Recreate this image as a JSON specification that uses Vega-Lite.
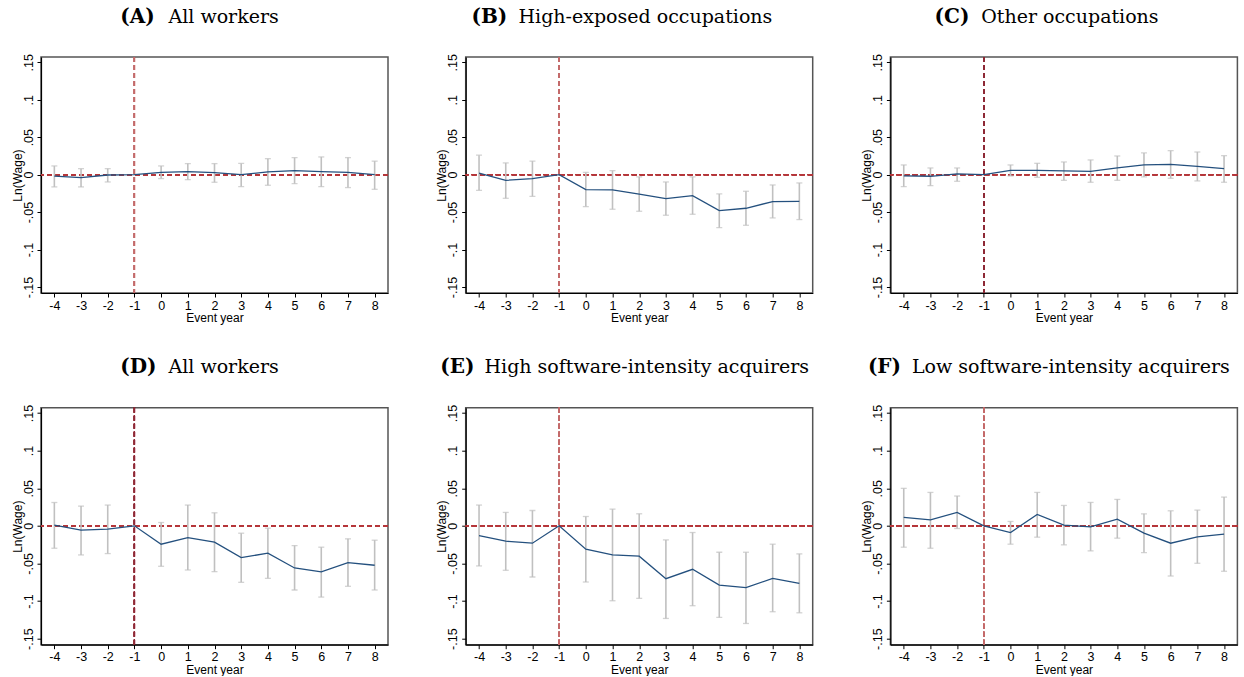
{
  "$schema": "https://vega.github.io/schema/vega-lite/v6.json",
  "padding": {"left": 10, "top": 5, "right": 0, "bottom": 0},
  "background": "white",
  "datasets": {
    "A": [
      {"year": -4, "b": -0.002, "lo": -0.0164, "hi": 0.0116},
      {"year": -3, "b": -0.004, "lo": -0.0164, "hi": 0.008},
      {"year": -2, "b": -0.0005, "lo": -0.0098, "hi": 0.008},
      {"year": -1, "b": 0, "lo": null, "hi": null},
      {"year": 0, "b": 0.003, "lo": -0.0053, "hi": 0.0116},
      {"year": 1, "b": 0.004, "lo": -0.0067, "hi": 0.0147},
      {"year": 2, "b": 0.0027, "lo": -0.0102, "hi": 0.0147},
      {"year": 3, "b": 0.0, "lo": -0.016, "hi": 0.015},
      {"year": 4, "b": 0.0036, "lo": -0.0142, "hi": 0.0213},
      {"year": 5, "b": 0.0053, "lo": -0.012, "hi": 0.0227},
      {"year": 6, "b": 0.004, "lo": -0.016, "hi": 0.0236},
      {"year": 7, "b": 0.003, "lo": -0.0173, "hi": 0.0227},
      {"year": 8, "b": 0.0, "lo": -0.0196, "hi": 0.018}
    ],
    "B": [
      {"year": -4, "b": 0.002, "lo": -0.021, "hi": 0.026},
      {"year": -3, "b": -0.0076, "lo": -0.0316, "hi": 0.0156},
      {"year": -2, "b": -0.0053, "lo": -0.029, "hi": 0.018},
      {"year": -1, "b": 0, "lo": null, "hi": null},
      {"year": 0, "b": -0.02, "lo": -0.0427, "hi": 0.003},
      {"year": 1, "b": -0.0204, "lo": -0.0462, "hi": 0.0053},
      {"year": 2, "b": -0.026, "lo": -0.0489, "hi": -0.003},
      {"year": 3, "b": -0.032, "lo": -0.0542, "hi": -0.0098},
      {"year": 4, "b": -0.028, "lo": -0.0529, "hi": -0.003},
      {"year": 5, "b": -0.048, "lo": -0.0707, "hi": -0.0258},
      {"year": 6, "b": -0.0449, "lo": -0.0676, "hi": -0.0222},
      {"year": 7, "b": -0.036, "lo": -0.0578, "hi": -0.0138},
      {"year": 8, "b": -0.0356, "lo": -0.06, "hi": -0.0111}
    ],
    "C": [
      {"year": -4, "b": -0.0018, "lo": -0.016, "hi": 0.0129},
      {"year": -3, "b": -0.0022, "lo": -0.0147, "hi": 0.0089},
      {"year": -2, "b": 0.0009, "lo": -0.0089, "hi": 0.0089},
      {"year": -1, "b": 0, "lo": null, "hi": null},
      {"year": 0, "b": 0.0058, "lo": -0.0018, "hi": 0.0129},
      {"year": 1, "b": 0.0058, "lo": -0.0036, "hi": 0.0151},
      {"year": 2, "b": 0.0049, "lo": -0.0076, "hi": 0.0169},
      {"year": 3, "b": 0.0044, "lo": -0.0102, "hi": 0.0196},
      {"year": 4, "b": 0.0089, "lo": -0.0076, "hi": 0.0249},
      {"year": 5, "b": 0.0129, "lo": -0.0031, "hi": 0.0289},
      {"year": 6, "b": 0.0138, "lo": -0.0049, "hi": 0.032},
      {"year": 7, "b": 0.0111, "lo": -0.0084, "hi": 0.0302},
      {"year": 8, "b": 0.008, "lo": -0.0102, "hi": 0.0253}
    ],
    "D": [
      {"year": -4, "b": 0.001, "lo": -0.0298, "hi": 0.031},
      {"year": -3, "b": -0.0058, "lo": -0.0387, "hi": 0.0262},
      {"year": -2, "b": -0.0044, "lo": -0.0369, "hi": 0.0276},
      {"year": -1, "b": 0, "lo": null, "hi": null},
      {"year": 0, "b": -0.0244, "lo": -0.0538, "hi": 0.0044},
      {"year": 1, "b": -0.0156, "lo": -0.0587, "hi": 0.0276},
      {"year": 2, "b": -0.0218, "lo": -0.0609, "hi": 0.0173},
      {"year": 3, "b": -0.0422, "lo": -0.0751, "hi": -0.0098},
      {"year": 4, "b": -0.0364, "lo": -0.0698, "hi": -0.0031},
      {"year": 5, "b": -0.056, "lo": -0.0853, "hi": -0.0262},
      {"year": 6, "b": -0.0613, "lo": -0.0947, "hi": -0.0284},
      {"year": 7, "b": -0.0489, "lo": -0.0804, "hi": -0.0173},
      {"year": 8, "b": -0.0524, "lo": -0.0853, "hi": -0.0191}
    ],
    "E": [
      {"year": -4, "b": -0.0129, "lo": -0.0533, "hi": 0.0276},
      {"year": -3, "b": -0.0204, "lo": -0.0591, "hi": 0.0178},
      {"year": -2, "b": -0.0231, "lo": -0.068, "hi": 0.0204},
      {"year": -1, "b": 0, "lo": null, "hi": null},
      {"year": 0, "b": -0.0311, "lo": -0.0747, "hi": 0.0124},
      {"year": 1, "b": -0.0387, "lo": -0.0996, "hi": 0.0222},
      {"year": 2, "b": -0.0404, "lo": -0.0964, "hi": 0.016},
      {"year": 3, "b": -0.0702, "lo": -0.1231, "hi": -0.0187},
      {"year": 4, "b": -0.0578, "lo": -0.1062, "hi": -0.0089},
      {"year": 5, "b": -0.0787, "lo": -0.1218, "hi": -0.0351},
      {"year": 6, "b": -0.0822, "lo": -0.1298, "hi": -0.0351},
      {"year": 7, "b": -0.0698, "lo": -0.1142, "hi": -0.0244},
      {"year": 8, "b": -0.0764, "lo": -0.1156, "hi": -0.0373}
    ],
    "F": [
      {"year": -4, "b": 0.0111, "lo": -0.0284, "hi": 0.0498},
      {"year": -3, "b": 0.008, "lo": -0.0298, "hi": 0.0444},
      {"year": -2, "b": 0.0178, "lo": -0.0036, "hi": 0.0396},
      {"year": -1, "b": 0, "lo": null, "hi": null},
      {"year": 0, "b": -0.0089, "lo": -0.0244, "hi": 0.0058},
      {"year": 1, "b": 0.0151, "lo": -0.0151, "hi": 0.0444},
      {"year": 2, "b": 0.0009, "lo": -0.0253, "hi": 0.0271},
      {"year": 3, "b": -0.0013, "lo": -0.0333, "hi": 0.0311},
      {"year": 4, "b": 0.0089, "lo": -0.0164, "hi": 0.0351},
      {"year": 5, "b": -0.0098, "lo": -0.0356, "hi": 0.016},
      {"year": 6, "b": -0.0231, "lo": -0.0667, "hi": 0.02},
      {"year": 7, "b": -0.0147, "lo": -0.0498, "hi": 0.0209},
      {"year": 8, "b": -0.0111, "lo": -0.0604, "hi": 0.0382}
    ]
  },
  "columns": 3,
  "spacing": {"row": 114.7, "column": 77.7},
  "bounds": "flush",
  "concat": [
    {
      "width": 347, "height": 236,
      "data": {"name": "A"},
      "resolve": {"axis": {"x": "independent"}},
      "layer": [
        {"mark": {"type": "rule", "color": "#b5363a", "strokeDash": [5, 3], "strokeWidth": 1.2}, "encoding": {"y": {"datum": 0, "type": "quantitative", "title": "Ln(Wage)", "scale": {"domain": [-0.158, 0.157], "nice": false, "zero": false}}}},
        {"mark": {"type": "rule", "color": "#c46a6a", "strokeDash": [5, 3], "strokeWidth": 1.2}, "encoding": {"x": {"datum": -1, "type": "quantitative", "scale": {"domain": [-4.5, 8.5], "nice": false, "zero": false}, "axis": {"orient": "top", "title": "All workers", "titleX": 127, "labels": false, "ticks": false, "domain": false, "style": "paneltitle"}}}},
        {"mark": {"type": "rule", "color": "#c0c0c0", "strokeWidth": 1.6}, "encoding": {"x": {"field": "year", "type": "quantitative", "axis": {"orient": "top", "title": "(A)", "titleX": 78.7, "labels": false, "ticks": false, "domain": false, "style": "panelletter"}}, "y": {"field": "lo", "type": "quantitative", "title": "Ln(Wage)"}, "y2": {"field": "hi"}}},
        {"mark": {"type": "tick", "color": "#c0c0c0", "size": 6, "thickness": 1.3, "orient": "horizontal"}, "encoding": {"x": {"field": "year", "type": "quantitative", "axis": null}, "y": {"field": "lo", "type": "quantitative", "title": "Ln(Wage)"}}},
        {"mark": {"type": "tick", "color": "#c0c0c0", "size": 6, "thickness": 1.3, "orient": "horizontal"}, "encoding": {"x": {"field": "year", "type": "quantitative", "axis": null}, "y": {"field": "hi", "type": "quantitative", "title": "Ln(Wage)"}}},
        {"mark": {"type": "line", "color": "#24507e", "strokeWidth": 1.3}, "encoding": {"x": {"field": "year", "type": "quantitative", "title": "Event year"}, "y": {"field": "b", "type": "quantitative", "title": "Ln(Wage)"}}}
      ]
    },
    {
      "width": 347, "height": 236,
      "data": {"name": "B"},
      "resolve": {"axis": {"x": "independent"}},
      "layer": [
        {"mark": {"type": "rule", "color": "#b5363a", "strokeDash": [5, 3], "strokeWidth": 1.2}, "encoding": {"y": {"datum": 0, "type": "quantitative", "title": "Ln(Wage)", "scale": {"domain": [-0.158, 0.157], "nice": false, "zero": false}}}},
        {"mark": {"type": "rule", "color": "#c46a6a", "strokeDash": [5, 3], "strokeWidth": 1.2}, "encoding": {"x": {"datum": -1, "type": "quantitative", "scale": {"domain": [-4.5, 8.5], "nice": false, "zero": false}, "axis": {"orient": "top", "title": "High-exposed occupations", "titleX": 52.3, "labels": false, "ticks": false, "domain": false, "style": "paneltitle"}}}},
        {"mark": {"type": "rule", "color": "#c0c0c0", "strokeWidth": 1.6}, "encoding": {"x": {"field": "year", "type": "quantitative", "axis": {"orient": "top", "title": "(B)", "titleX": 5.3, "labels": false, "ticks": false, "domain": false, "style": "panelletter"}}, "y": {"field": "lo", "type": "quantitative", "title": "Ln(Wage)"}, "y2": {"field": "hi"}}},
        {"mark": {"type": "tick", "color": "#c0c0c0", "size": 6, "thickness": 1.3, "orient": "horizontal"}, "encoding": {"x": {"field": "year", "type": "quantitative", "axis": null}, "y": {"field": "lo", "type": "quantitative", "title": "Ln(Wage)"}}},
        {"mark": {"type": "tick", "color": "#c0c0c0", "size": 6, "thickness": 1.3, "orient": "horizontal"}, "encoding": {"x": {"field": "year", "type": "quantitative", "axis": null}, "y": {"field": "hi", "type": "quantitative", "title": "Ln(Wage)"}}},
        {"mark": {"type": "line", "color": "#24507e", "strokeWidth": 1.3}, "encoding": {"x": {"field": "year", "type": "quantitative", "title": "Event year"}, "y": {"field": "b", "type": "quantitative", "title": "Ln(Wage)"}}}
      ]
    },
    {
      "width": 347, "height": 236,
      "data": {"name": "C"},
      "resolve": {"axis": {"x": "independent"}},
      "layer": [
        {"mark": {"type": "rule", "color": "#b5363a", "strokeDash": [5, 3], "strokeWidth": 1.2}, "encoding": {"y": {"datum": 0, "type": "quantitative", "title": "Ln(Wage)", "scale": {"domain": [-0.158, 0.157], "nice": false, "zero": false}}}},
        {"mark": {"type": "rule", "color": "#8e2a36", "strokeDash": [5, 3], "strokeWidth": 1.2}, "encoding": {"x": {"datum": -1, "type": "quantitative", "scale": {"domain": [-4.5, 8.5], "nice": false, "zero": false}, "axis": {"orient": "top", "title": "Other occupations", "titleX": 90.3, "labels": false, "ticks": false, "domain": false, "style": "paneltitle"}}}},
        {"mark": {"type": "rule", "color": "#c0c0c0", "strokeWidth": 1.6}, "encoding": {"x": {"field": "year", "type": "quantitative", "axis": {"orient": "top", "title": "(C)", "titleX": 43.7, "labels": false, "ticks": false, "domain": false, "style": "panelletter"}}, "y": {"field": "lo", "type": "quantitative", "title": "Ln(Wage)"}, "y2": {"field": "hi"}}},
        {"mark": {"type": "tick", "color": "#c0c0c0", "size": 6, "thickness": 1.3, "orient": "horizontal"}, "encoding": {"x": {"field": "year", "type": "quantitative", "axis": null}, "y": {"field": "lo", "type": "quantitative", "title": "Ln(Wage)"}}},
        {"mark": {"type": "tick", "color": "#c0c0c0", "size": 6, "thickness": 1.3, "orient": "horizontal"}, "encoding": {"x": {"field": "year", "type": "quantitative", "axis": null}, "y": {"field": "hi", "type": "quantitative", "title": "Ln(Wage)"}}},
        {"mark": {"type": "line", "color": "#24507e", "strokeWidth": 1.3}, "encoding": {"x": {"field": "year", "type": "quantitative", "title": "Event year"}, "y": {"field": "b", "type": "quantitative", "title": "Ln(Wage)"}}}
      ]
    },
    {
      "width": 347, "height": 237,
      "data": {"name": "D"},
      "resolve": {"axis": {"x": "independent"}},
      "layer": [
        {"mark": {"type": "rule", "color": "#b5363a", "strokeDash": [5, 3], "strokeWidth": 1.2}, "encoding": {"y": {"datum": 0, "type": "quantitative", "title": "Ln(Wage)", "scale": {"domain": [-0.158, 0.157], "nice": false, "zero": false}}}},
        {"mark": {"type": "rule", "color": "#8e2a36", "strokeDash": [5, 3], "strokeWidth": 1.2}, "encoding": {"x": {"datum": -1, "type": "quantitative", "scale": {"domain": [-4.5, 8.5], "nice": false, "zero": false}, "axis": {"orient": "top", "title": "All workers", "titleX": 127, "labels": false, "ticks": false, "domain": false, "style": "paneltitle"}}}},
        {"mark": {"type": "rule", "color": "#c0c0c0", "strokeWidth": 1.6}, "encoding": {"x": {"field": "year", "type": "quantitative", "axis": {"orient": "top", "title": "(D)", "titleX": 78.7, "labels": false, "ticks": false, "domain": false, "style": "panelletter"}}, "y": {"field": "lo", "type": "quantitative", "title": "Ln(Wage)"}, "y2": {"field": "hi"}}},
        {"mark": {"type": "tick", "color": "#c0c0c0", "size": 6, "thickness": 1.3, "orient": "horizontal"}, "encoding": {"x": {"field": "year", "type": "quantitative", "axis": null}, "y": {"field": "lo", "type": "quantitative", "title": "Ln(Wage)"}}},
        {"mark": {"type": "tick", "color": "#c0c0c0", "size": 6, "thickness": 1.3, "orient": "horizontal"}, "encoding": {"x": {"field": "year", "type": "quantitative", "axis": null}, "y": {"field": "hi", "type": "quantitative", "title": "Ln(Wage)"}}},
        {"mark": {"type": "line", "color": "#24507e", "strokeWidth": 1.3}, "encoding": {"x": {"field": "year", "type": "quantitative", "title": "Event year"}, "y": {"field": "b", "type": "quantitative", "title": "Ln(Wage)"}}}
      ]
    },
    {
      "width": 347, "height": 237,
      "data": {"name": "E"},
      "resolve": {"axis": {"x": "independent"}},
      "layer": [
        {"mark": {"type": "rule", "color": "#b5363a", "strokeDash": [5, 3], "strokeWidth": 1.2}, "encoding": {"y": {"datum": 0, "type": "quantitative", "title": "Ln(Wage)", "scale": {"domain": [-0.158, 0.157], "nice": false, "zero": false}}}},
        {"mark": {"type": "rule", "color": "#c46a6a", "strokeDash": [5, 3], "strokeWidth": 1.2}, "encoding": {"x": {"datum": -1, "type": "quantitative", "scale": {"domain": [-4.5, 8.5], "nice": false, "zero": false}, "axis": {"orient": "top", "title": "High software-intensity acquirers", "titleX": 18.3, "labels": false, "ticks": false, "domain": false, "style": "paneltitle"}}}},
        {"mark": {"type": "rule", "color": "#c0c0c0", "strokeWidth": 1.6}, "encoding": {"x": {"field": "year", "type": "quantitative", "axis": {"orient": "top", "title": "(E)", "titleX": -26, "labels": false, "ticks": false, "domain": false, "style": "panelletter"}}, "y": {"field": "lo", "type": "quantitative", "title": "Ln(Wage)"}, "y2": {"field": "hi"}}},
        {"mark": {"type": "tick", "color": "#c0c0c0", "size": 6, "thickness": 1.3, "orient": "horizontal"}, "encoding": {"x": {"field": "year", "type": "quantitative", "axis": null}, "y": {"field": "lo", "type": "quantitative", "title": "Ln(Wage)"}}},
        {"mark": {"type": "tick", "color": "#c0c0c0", "size": 6, "thickness": 1.3, "orient": "horizontal"}, "encoding": {"x": {"field": "year", "type": "quantitative", "axis": null}, "y": {"field": "hi", "type": "quantitative", "title": "Ln(Wage)"}}},
        {"mark": {"type": "line", "color": "#24507e", "strokeWidth": 1.3}, "encoding": {"x": {"field": "year", "type": "quantitative", "title": "Event year"}, "y": {"field": "b", "type": "quantitative", "title": "Ln(Wage)"}}}
      ]
    },
    {
      "width": 347, "height": 237,
      "data": {"name": "F"},
      "resolve": {"axis": {"x": "independent"}},
      "layer": [
        {"mark": {"type": "rule", "color": "#b5363a", "strokeDash": [5, 3], "strokeWidth": 1.2}, "encoding": {"y": {"datum": 0, "type": "quantitative", "title": "Ln(Wage)", "scale": {"domain": [-0.158, 0.157], "nice": false, "zero": false}}}},
        {"mark": {"type": "rule", "color": "#c46a6a", "strokeDash": [5, 3], "strokeWidth": 1.2}, "encoding": {"x": {"datum": -1, "type": "quantitative", "scale": {"domain": [-4.5, 8.5], "nice": false, "zero": false}, "axis": {"orient": "top", "title": "Low software-intensity acquirers", "titleX": 21, "labels": false, "ticks": false, "domain": false, "style": "paneltitle"}}}},
        {"mark": {"type": "rule", "color": "#c0c0c0", "strokeWidth": 1.6}, "encoding": {"x": {"field": "year", "type": "quantitative", "axis": {"orient": "top", "title": "(F)", "titleX": -23, "labels": false, "ticks": false, "domain": false, "style": "panelletter"}}, "y": {"field": "lo", "type": "quantitative", "title": "Ln(Wage)"}, "y2": {"field": "hi"}}},
        {"mark": {"type": "tick", "color": "#c0c0c0", "size": 6, "thickness": 1.3, "orient": "horizontal"}, "encoding": {"x": {"field": "year", "type": "quantitative", "axis": null}, "y": {"field": "lo", "type": "quantitative", "title": "Ln(Wage)"}}},
        {"mark": {"type": "tick", "color": "#c0c0c0", "size": 6, "thickness": 1.3, "orient": "horizontal"}, "encoding": {"x": {"field": "year", "type": "quantitative", "axis": null}, "y": {"field": "hi", "type": "quantitative", "title": "Ln(Wage)"}}},
        {"mark": {"type": "line", "color": "#24507e", "strokeWidth": 1.3}, "encoding": {"x": {"field": "year", "type": "quantitative", "title": "Event year"}, "y": {"field": "b", "type": "quantitative", "title": "Ln(Wage)"}}}
      ]
    }
  ],
  "config": {
    "font": "Liberation Sans",
    "view": {"stroke": "#555", "strokeWidth": 1.5},
    "axis": {
      "grid": false,
      "domainColor": "#000",
      "domainWidth": 1.2,
      "tickColor": "#000",
      "tickSize": 4,
      "tickWidth": 1,
      "labelFont": "Liberation Sans",
      "labelFontSize": 12.5,
      "labelColor": "#000",
      "titleFont": "Liberation Sans",
      "titleFontSize": 12,
      "titleFontWeight": "normal",
      "titleColor": "#000",
      "labelFlush": false,
      "labelOverlap": false
    },
    "axisX": {"tickCount": 13, "labelPadding": 2, "titlePadding": 1, "labelExpr": "replace(format(datum.value, 'd'), '\u2212', '-')"},
    "axisY": {"tickCount": 7, "labelAngle": 270, "labelPadding": 2, "titlePadding": -2, "labelExpr": "replace(replace(format(datum.value, '.2~f'), '\u2212', '-'), '0.', '.')"},
    "style": {
      "paneltitle": {"titleFont": "DejaVu Serif", "titleFontSize": 19, "titleFontWeight": "normal", "titleAlign": "left", "titleBaseline": "alphabetic", "titleY": -35, "titleAngle": 0},
      "panelletter": {"titleFont": "DejaVu Serif", "titleFontSize": 20, "titleFontWeight": "bold", "titleAlign": "left", "titleBaseline": "alphabetic", "titleY": -35, "titleAngle": 0}
    }
  }
}
